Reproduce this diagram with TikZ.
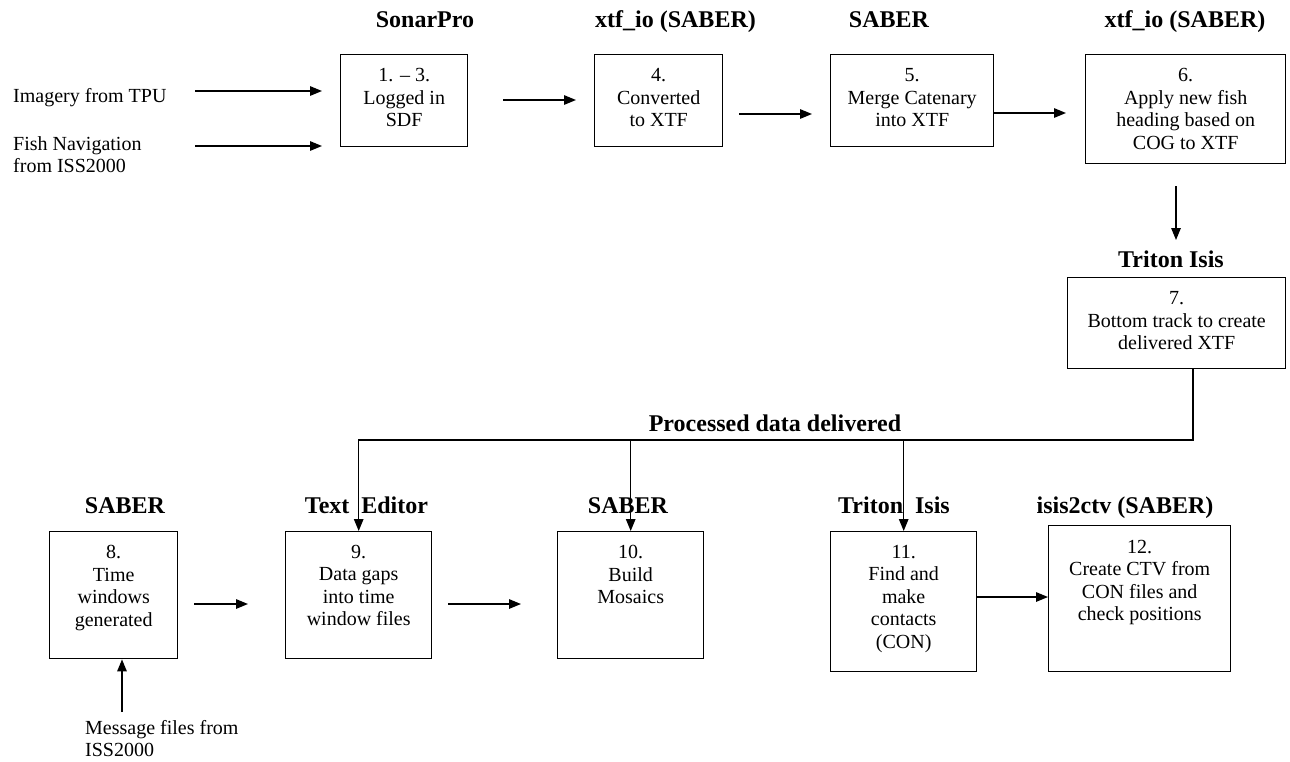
\documentclass[tikz,border=0pt]{standalone}
\usepackage{fontspec}
\setmainfont{Liberation Serif}
\usetikzlibrary{arrows.meta,calc}
\begin{document}
\begin{tikzpicture}[x=1pt,y=-1pt,
  box/.style={draw,line width=1.4pt,inner sep=0pt,anchor=north west},
  txt/.style={align=center,inner sep=0pt,anchor=north,font=\fontsize{20}{22.5}\selectfont},
  lbl/.style={align=left,inner sep=0pt,font=\fontsize{20}{22}\selectfont},
  ttl/.style={inner sep=0pt,anchor=base,font=\fontsize{24}{28}\selectfont\bfseries},
  arr/.style={line width=1.4pt,-{Triangle[length=12pt,width=9.5pt]}},
  ln/.style={line width=1.4pt}]
\useasboundingbox (0,0) rectangle (1290,761);

% ---------- titles ----------
\node[ttl] (ti1) at (425,27) {SonarPro};
\node[ttl] (ti2) at (675.5,27) {xtf\_io (SABER)};
\node[ttl] (ti3) at (889,27) {SABER};
\node[ttl] (ti4) at (1185,27) {xtf\_io (SABER)};
\node[ttl] (ti5) at (1171,267) {Triton Isis};
\node[ttl] (ti6) at (775,431) {Processed data delivered};
\node[ttl] (ti7) at (125,513) {SABER};
\node[ttl] (ti8) at (366.5,513) {Text\ \ Editor};
\node[ttl] (ti9) at (628,513) {SABER};
\node[ttl] (ti10) at (894,513) {Triton\ \ Isis};
\node[ttl] (ti11) at (1125,513) {isis2ctv (SABER)};

% ---------- boxes ----------
\node[box,minimum width=127pt,minimum height=92pt] (b13) at (340,54) {};
\node[box,minimum width=128pt,minimum height=92pt] (b4) at (594,54) {};
\node[box,minimum width=163pt,minimum height=92pt] (b5) at (830,54) {};
\node[box,minimum width=200pt,minimum height=109pt] (b6) at (1085,54) {};
\node[box,minimum width=218pt,minimum height=91pt] (b7) at (1067,277) {};
\node[box,minimum width=128pt,minimum height=127pt] (b8) at (49,531) {};
\node[box,minimum width=146pt,minimum height=127pt] (b9) at (285,531) {};
\node[box,minimum width=146pt,minimum height=127pt] (b10) at (557,531) {};
\node[box,minimum width=146pt,minimum height=140pt] (b11) at (830,531) {};
\node[box,minimum width=182pt,minimum height=146pt] (b12) at (1048,525) {};

% ---------- box texts ----------
\node[txt] (t13) at ([yshift=-14.5pt]b13.north) {1. \textendash\ 3.\\Logged in\\SDF};
\node[txt] (t4) at ([yshift=-14.5pt]b4.north) {4.\\Converted\\to XTF};
\node[txt] (t5) at ([yshift=-14.5pt]b5.north) {5.\\Merge Catenary\\into XTF};
\node[txt] (t6) at ([yshift=-14.5pt]b6.north) {6.\\Apply new fish\\heading based on\\COG to XTF};
\node[txt] (t7) at ([yshift=-14.5pt]b7.north) {7.\\Bottom track to create\\delivered XTF};
\node[txt] (t8) at ([yshift=-14pt]b8.north) {8.\\Time\\windows\\generated};
\node[txt] (t9) at ([yshift=-14pt]b9.north) {9.\\Data gaps\\into time\\window files};
\node[txt] (t10) at ([yshift=-14pt]b10.north) {10.\\Build\\Mosaics};
\node[txt] (t11) at ([yshift=-14pt]b11.north) {11.\\Find and\\make\\contacts\\(CON)};
\node[txt] (t12) at ([yshift=-15pt]b12.north) {12.\\Create CTV from\\CON files and\\check positions};

% ---------- side labels ----------
\node[lbl,anchor=base west] (img) at (13,102) {Imagery from TPU};
\node[lbl,anchor=north west] (fish) at (13,136.3) {Fish Navigation\\from ISS2000};
\node[lbl,anchor=north west] (msg) at (85,720.3) {Message files from\\ISS2000};

% ---------- connector end points ----------
\coordinate (a1s) at (195,91);   \coordinate (a1e) at (322,91);
\coordinate (a2s) at (195,146);  \coordinate (a2e) at (322,146);
\coordinate (a3s) at (503,100);  \coordinate (a3e) at (576,100);
\coordinate (a4s) at (739,114);  \coordinate (a4e) at (812,114);
\coordinate (a5e) at (1066,113);
\coordinate (a6s) at (1176,186); \coordinate (a6e) at (1176,240);
\coordinate (j1) at (1193,440);
\coordinate (a8s) at (194,604);  \coordinate (a8e) at (248,604);
\coordinate (a9s) at (448,604);  \coordinate (a9e) at (521,604);
\coordinate (a11) at (976,597);
\coordinate (am) at (122,712);

% ---------- connectors ----------
\draw[arr] (a1s) -- (a1e);
\draw[arr] (a2s) -- (a2e);
\draw[arr] (a3s) -- (a3e);
\draw[arr] (a4s) -- (a4e);
\draw[arr] (b5.east |- a5e) -- (a5e);
\draw[arr] (a6s) -- (a6e);
\draw[arr] (b7.south -| j1) -- (j1) -- (b9.north |- j1) -- (b9.north);
\draw[arr] (b10.north |- j1) -- (b10.north);
\draw[arr] (b11.north |- j1) -- (b11.north);
\draw[arr] (a8s) -- (a8e);
\draw[arr] (a9s) -- (a9e);
\draw[arr] (a11) -- (b12.west |- a11);
\draw[arr] (am) -- (b8.south -| am);
\end{tikzpicture}
\end{document}
